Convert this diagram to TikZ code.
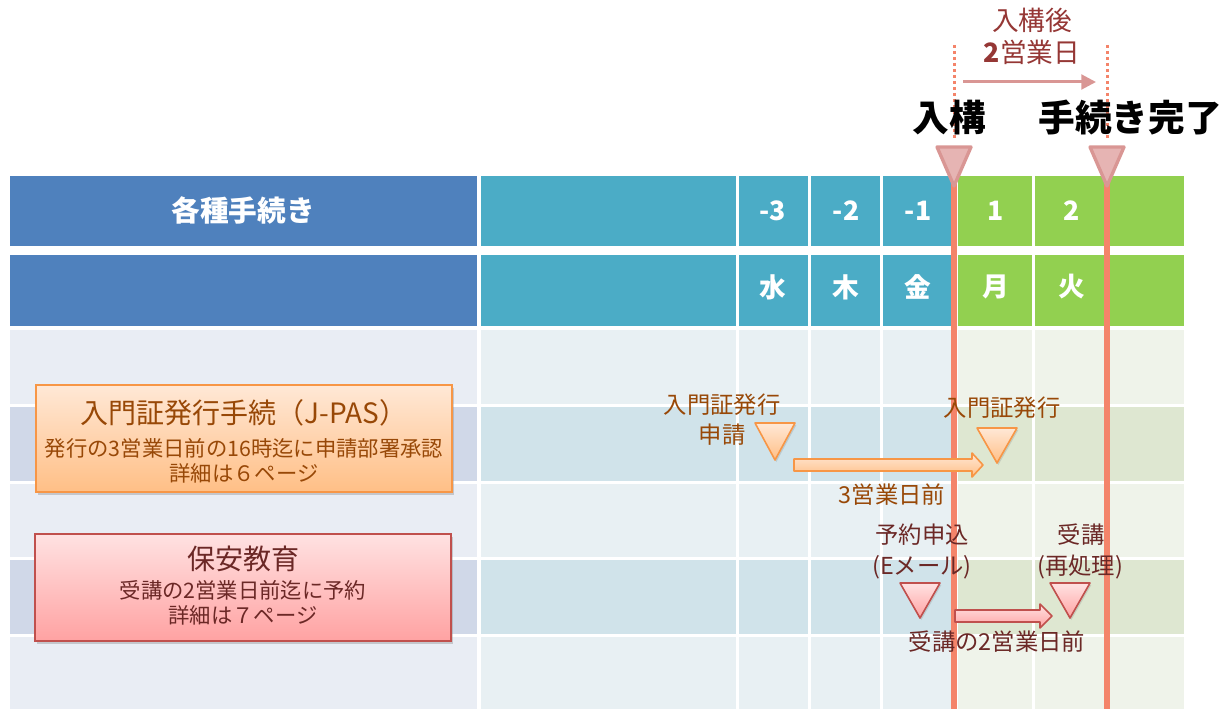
\documentclass[tikz,border=0pt]{standalone}
\usepackage{fontspec}
\setmainfont{Noto Sans CJK JP}
\usetikzlibrary{arrows.meta}
\usetikzlibrary{shadows}
\usetikzlibrary{calc}

\definecolor{hdrblue}{HTML}{4F81BD}
\definecolor{hdrteal}{HTML}{4BACC6}
\definecolor{hdrgreen}{HTML}{92D050}
\definecolor{La}{HTML}{E9EDF4}
\definecolor{Lb}{HTML}{D0D8E8}
\definecolor{Ta}{HTML}{E8F0F3}
\definecolor{Tb}{HTML}{D0E3EA}
\definecolor{Ga}{HTML}{EFF3EA}
\definecolor{Gb}{HTML}{DEE7D1}
\definecolor{salmon}{HTML}{F4846A}
\definecolor{rosy}{HTML}{D99694}
\definecolor{rosyfill}{HTML}{E6B4B3}
\definecolor{darkred}{HTML}{953735}
\definecolor{brownish}{HTML}{984807}
\definecolor{wine}{HTML}{6B2826}
\definecolor{orangeline}{HTML}{F79646}
\definecolor{orangelight}{HTML}{FFE8D6}
\definecolor{orangedeep}{HTML}{FFBF86}
\definecolor{redline}{HTML}{C0504D}
\definecolor{pinklight}{HTML}{FFE2E2}
\definecolor{pinkdeep}{HTML}{FFA2A2}

\tikzset{
  jsize/.style={font=\fontsize{#1}{#1}\selectfont},
  jbold/.style={font=\fontsize{#1}{#1}\selectfont\bfseries},
  hdrtext/.style={jbold=20, text=white},
  orangebox/.style={draw=orangeline, line width=1.5pt, top color=orangelight, bottom color=orangedeep,
    drop shadow={opacity=.35, shadow xshift=1.5pt, shadow yshift=-2pt}},
  pinkbox/.style={draw=redline, line width=1.5pt, top color=pinklight, bottom color=pinkdeep,
    drop shadow={opacity=.35, shadow xshift=1.5pt, shadow yshift=-2pt}},
  orangetri/.style={draw=orangeline, line width=1.2pt, line join=round, top color=orangelight, bottom color=orangedeep,
    drop shadow={opacity=.25, shadow xshift=1pt, shadow yshift=-1.5pt}},
  pinktri/.style={draw=redline, line width=1.2pt, line join=round, top color=pinklight, bottom color=pinkdeep,
    drop shadow={opacity=.25, shadow xshift=1pt, shadow yshift=-1.5pt}},
  orangearrow/.style={draw=orangeline, line width=1.2pt, line join=round, top color=orangelight, bottom color=orangedeep},
  pinkarrow/.style={draw=redline, line width=1.2pt, line join=round, top color=pinklight, bottom color=pinkdeep},
}

\begin{document}
\begin{tikzpicture}[x=0.75pt,y=-0.75pt]
\useasboundingbox (0,0) rectangle (1226,709);

% table cells
\foreach \xa/\xb/\col/\pal in {10/477/hdrblue/L, 481/736/hdrteal/T, 739/808/hdrteal/T, 811/880/hdrteal/T,
    883/955/hdrteal/T, 958/1032/hdrgreen/G, 1035/1107/hdrgreen/G, 1110/1184/hdrgreen/G}{
  \fill[fill=\col] (\xa,176) rectangle (\xb,246);
  \fill[fill=\col] (\xa,255) rectangle (\xb,326);
  \foreach \ya/\yb/\tone in {330/404/a, 407/481/b, 484/557/a, 560/634/b, 637/709/a}
    \fill[fill=\pal\tone] (\xa,\ya) rectangle (\xb,\yb);
}

\node[jbold=21.5, text=white] (kinds) at (243,210) {各種手続き};
\foreach \x/\n/\d [count=\i] in {773/-3/水, 846/-2/木, 918/-1/金, 996/1/月, 1072/2/火}{
  \node[hdrtext] (num\i) at (\x,211) {\n};
  \node[hdrtext] (day\i) at (\x,287) {\d};
}

% entry / completion lines
\draw[salmon, line width=4.5pt] (954,150) -- (954,709);
\draw[salmon, line width=4.5pt] (1107,150) -- (1107,709);
\draw[salmon, line width=2.25pt, dash pattern=on 2.25pt off 2.25pt] (954,45) -- (954,140);
\draw[salmon, line width=2.25pt, dash pattern=on 2.25pt off 2.25pt] (1107,45) -- (1107,140);
\filldraw[fill=rosyfill, draw=rosy, line width=2.5pt, line join=round] (937,147) -- (971,147) -- (954,186) -- cycle;
\filldraw[fill=rosyfill, draw=rosy, line width=2.5pt, line join=round] (1090,147) -- (1124,147) -- (1107,186) -- cycle;

\coordinate (gapfrom) at (963,82);
\coordinate (gapto) at (1096,82);
\draw[rosy, line width=2.25pt, -{Triangle[length=11pt,width=11pt]}] (gapfrom) -- (gapto);
\node[jsize=20, text=darkred] (after) at (1032,20) {入構後};
\node[jsize=20, text=darkred] (days) at (1032,52) {\textbf{2}営業日};

\node[jbold=27.5] (entry) at (949,118) {入構};
\node[jbold=27.5] (done) at (1130,118) {手続き完了};

% procedure boxes
\node[orangebox, minimum width=312pt, minimum height=80pt] (jpas) at (244,438.5) {};
\node[jsize=21, text=brownish] (jpastitle) at (244,413) {入門証発行手続（J-PAS）};
\node[jsize=16, text=brownish] (jpasrule) at (244,448) {発行の3営業日前の16時迄に申請部署承認};
\node[jsize=16, text=brownish] (jpaspage) at (244,473) {詳細は６ページ};

\node[pinkbox, minimum width=312pt, minimum height=80pt] (safety) at (243,587.5) {};
\node[jsize=21, text=wine] (safetytitle) at (243,559) {保安教育};
\node[jsize=16, text=wine] (safetyrule) at (243,590) {受講の2営業日前迄に予約};
\node[jsize=16, text=wine] (safetypage) at (243,615) {詳細は７ページ};

% pass issue
\coordinate (reqtip) at (775,460);
\coordinate (isstip) at (997,463);
\path[orangetri] (reqtip) -- ++(-20,-37) -- ++(40,0) -- cycle;
\path[orangetri] (isstip) -- ++(-20,-35) -- ++(40,0) -- cycle;
\node[jsize=17.5, text=brownish] (reqtext) at (722,405) {入門証発行};
\node[jsize=17.5, text=brownish] (reqtext2) at (722,435) {申請};
\node[jsize=17.5, text=brownish] (isstext) at (1002,408) {入門証発行};
\coordinate (ofrom) at ($(reqtip)+(19,5)$);
\coordinate (oto) at ($(isstip)+(-14,2)$);
\path[orangearrow] ($(ofrom)+(0,-6)$) -- ($(oto)+(-11,-6)$) -- ($(oto)+(-11,-12)$) -- (oto)
  -- ($(oto)+(-11,12)$) -- ($(oto)+(-11,6)$) -- ($(ofrom)+(0,6)$) -- cycle;
\node[jsize=17.5, text=brownish] (lead3) at (892,495) {3営業日前};

% safety training
\coordinate (resvtip) at (920,618);
\coordinate (retip) at (1070,618);
\path[pinktri] (resvtip) -- ++(-20,-35) -- ++(40,0) -- cycle;
\path[pinktri] (retip) -- ++(-20,-35) -- ++(40,0) -- cycle;
\node[jsize=17.5, text=wine] (resvtext) at (922,535) {予約申込};
\node[jsize=17.5, text=wine] (resvtext2) at (922,567) {(Eメール)};
\node[jsize=17.5, text=wine] (retext) at (1081,535) {受講};
\node[jsize=17.5, text=wine] (retext2) at (1080,567) {(再処理)};
\coordinate (pfrom) at ($(resvtip)+(35,-2)$);
\coordinate (pto) at ($(retip)+(-18,-2)$);
\path[pinkarrow] ($(pfrom)+(0,-6)$) -- ($(pto)+(-12,-6)$) -- ($(pto)+(-12,-12)$) -- (pto)
  -- ($(pto)+(-12,12)$) -- ($(pto)+(-12,6)$) -- ($(pfrom)+(0,6)$) -- cycle;
\node[jsize=17.5, text=wine] (lead2) at (997,642) {受講の2営業日前};
\end{tikzpicture}
\end{document}
